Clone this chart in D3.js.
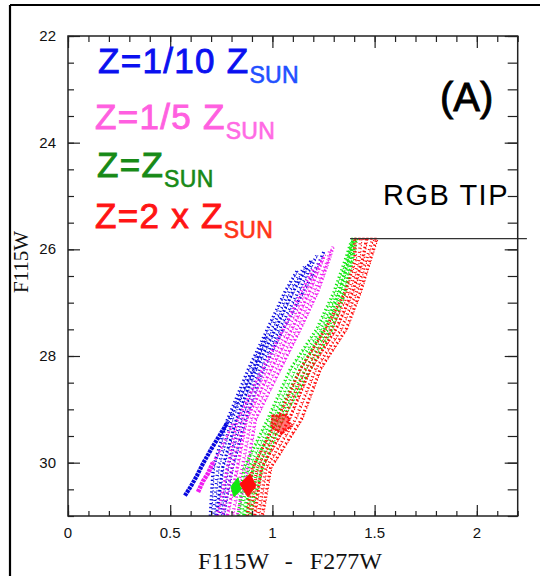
<!DOCTYPE html>
<html>
<head>
<meta charset="utf-8">
<script src="https://cdn.jsdelivr.net/npm/d3@7"></script>
<style>
  html, body { margin: 0; padding: 0; background: #fff; }
  svg { display: block; }
</style>
</head>
<body>
<svg id="chart" width="540" height="576"></svg>
<script>
// Axis ticks
const xMajorTicks = [0, 0.5, 1, 1.5, 2];
const xTickLabels = ["0", "0.5", "1", "1.5", "2"];
const yMajorTicks = [22, 24, 26, 28, 30];
const yTickLabels = ["22", "24", "26", "28", "30"];

// Legend entries (main text, subscript)
const legendMain = ["Z=1/10 Z", "Z=1/5 Z", "Z=Z", "Z=2 x Z"];
const legendSub = ["SUN", "SUN", "SUN", "SUN"];

// Tip of the red giant branch (F115W)
const rgbTipMag = 25.8;
const rgbTipColorRange = [1.38, 2.245];

// Isochrones, [F115W-F277W, F115W] — Z = 1/10 Zsun
const tracksZ010 = [
  [[0.695,31.0],[0.709,30.1],[0.778,29.2],[0.881,28.25],[0.974,27.5],[1.06,26.8],[1.12,26.4]],
  [[0.710,31.0],[0.732,30.1],[0.800,29.2],[0.899,28.25],[0.994,27.5],[1.08,26.8],[1.16,26.3]],
  [[0.726,31.0],[0.755,30.1],[0.822,29.2],[0.917,28.25],[1.013,27.5],[1.10,26.8],[1.19,26.2]],
  [[0.742,31.0],[0.779,30.1],[0.844,29.2],[0.935,28.25],[1.033,27.5],[1.125,26.8],[1.215,26.12]],
  [[0.758,31.0],[0.802,30.1],[0.866,29.2],[0.954,28.25],[1.052,27.5],[1.15,26.8],[1.233,26.2],[1.25,26.05]],
  [[0.78,29.25],[0.83,28.85],[0.90,28.3],[0.97,27.6]]
];
const clumpZ010 = [[0.572,30.62],[0.60,30.45],[0.63,30.25],[0.66,30.02],[0.70,29.75],[0.74,29.5],[0.78,29.25]];

// Z = 1/5 Zsun
const tracksZ020 = [
  [[0.729,31.0],[0.778,30.1],[0.827,29.2],[0.949,28.25],[1.052,27.5],[1.14,26.8],[1.20,26.35]],
  [[0.753,31.0],[0.800,30.1],[0.849,29.2],[0.971,28.25],[1.073,27.5],[1.16,26.8],[1.235,26.2]],
  [[0.778,31.0],[0.827,30.1],[0.871,29.2],[0.993,28.25],[1.094,27.5],[1.18,26.8],[1.255,26.1]],
  [[0.803,31.0],[0.851,30.1],[0.893,29.2],[1.015,28.25],[1.115,27.5],[1.20,26.8],[1.27,26.2],[1.28,26.0]],
  [[0.827,31.0],[0.876,30.1],[0.915,29.2],[1.037,28.25],[1.135,27.5],[1.22,26.8],[1.275,26.2],[1.296,25.95]],
  [[0.709,30.0],[0.744,29.76],[0.807,29.25]]
];
const clumpZ020 = [[0.636,30.55],[0.66,30.35],[0.685,30.2],[0.709,30.0]];

// Z = Zsun
const tracksZ100 = [
  [[0.832,31.0],[0.860,30.1],[0.974,29.2],[1.086,28.25],[1.215,27.5],[1.300,26.8],[1.355,26.2],[1.385,25.85]],
  [[0.846,31.0],[0.882,30.1],[0.992,29.2],[1.110,28.25],[1.234,27.5],[1.315,26.8],[1.364,26.2],[1.390,25.82]],
  [[0.861,31.0],[0.905,30.1],[1.010,29.2],[1.135,28.25],[1.252,27.5],[1.328,26.8],[1.372,26.2],[1.394,25.8]],
  [[0.875,31.0],[0.927,30.1],[1.028,29.2],[1.160,28.25],[1.270,27.5],[1.342,26.8],[1.382,26.2],[1.400,25.8]],
  [[0.890,31.0],[0.950,30.1],[1.047,29.2],[1.184,28.25],[1.290,27.5],[1.355,26.8],[1.390,26.2],[1.410,25.8]]
];
const tipZ100 = [[1.385,25.8],[1.41,25.8]];
const clumpZ100 = [[0.832,30.28],[0.846,30.51],[0.812,30.64],[0.797,30.45]];

// Z = 2 x Zsun
const tracksZ200 = [
  [[0.876,31.0],[0.900,30.1],[1.022,29.2],[1.135,28.25],[1.257,27.5],[1.355,26.8],[1.404,26.2],[1.40,25.82]],
  [[0.894,31.0],[0.922,30.1],[1.050,29.2],[1.160,28.25],[1.285,27.5],[1.373,26.8],[1.422,26.2],[1.43,25.82]],
  [[0.912,31.0],[0.945,30.1],[1.080,29.2],[1.184,28.25],[1.310,27.5],[1.392,26.8],[1.440,26.2],[1.46,25.8]],
  [[0.930,31.0],[0.967,30.1],[1.110,29.2],[1.210,28.25],[1.335,27.5],[1.410,26.8],[1.458,26.2],[1.49,25.8]],
  [[0.949,31.0],[0.990,30.1],[1.140,29.2],[1.233,28.25],[1.360,27.5],[1.429,26.8],[1.477,26.2],[1.51,25.8]]
];
const tipZ200 = [[1.40,25.8],[1.51,25.8]];
const clumpZ200 = [[0.890,30.21],[0.919,30.43],[0.880,30.64],[0.841,30.40]];
const clumpZ200b = [[1.00,29.12],[1.07,29.10],[1.09,29.32],[1.045,29.46],[0.995,29.33]];

// Colours
const trackColors = ["#0808e0", "#f01cf0", "#10e810", "#ff0c0c"];
const legendColors = ["#0a10f0", "#ff5fe0", "#178a17", "#ff1414"];
const subColors = ["#1f50ff", "#ff6ae4", "#178a17", "#ff3418"];

// Dot patterns cycled over the isochrones of one family
const dashPatterns = ["1.3 2.6", "1 3.2", "1.7 2.3", "1.1 2.9", "1.5 2.7", "1.2 3"];

const svg = d3.select("#chart");

const x = d3.scaleLinear().domain([0, 2.2]).range([68, 517.7]);
const y = d3.scaleLinear().domain([22, 31]).range([36, 516]);

// Outer figure border (top and left)
svg.append("line").attr("x1", 10).attr("y1", 5).attr("x2", 540).attr("y2", 5)
  .attr("stroke", "#000").attr("stroke-width", 2);
svg.append("line").attr("x1", 10).attr("y1", 5).attr("x2", 10).attr("y2", 576)
  .attr("stroke", "#000").attr("stroke-width", 2.2);

// Plot area clip
svg.append("clipPath").attr("id", "plotclip")
  .append("rect").attr("x", x(0)).attr("y", y(22))
  .attr("width", x(2.2) - x(0)).attr("height", y(31) - y(22));

const plot = svg.append("g").attr("clip-path", "url(#plotclip)");

const line = d3.line().x(d => x(d[0])).y(d => y(d[1]));

// Each isochrone: broad sparse ticks over a fine dotted core
function drawTrack(g, pts, color, k) {
  g.append("path")
    .attr("d", line(pts))
    .attr("fill", "none")
    .attr("stroke", color)
    .attr("stroke-width", 2.8)
    .attr("stroke-dasharray", dashPatterns[k % dashPatterns.length])
    .attr("stroke-dashoffset", k * 1.7);
  g.append("path")
    .attr("d", line(pts))
    .attr("fill", "none")
    .attr("stroke", color)
    .attr("stroke-width", 1.1)
    .attr("stroke-dasharray", "1.2 1.8")
    .attr("transform", "translate(1.6,-0.6)");
}

const families = [tracksZ010, tracksZ020, tracksZ100, tracksZ200];
families.forEach((tracks, i) => {
  const g = plot.append("g");
  tracks.forEach((t, j) => drawTrack(g, t, trackColors[i], j));
});

// Flat tops at the RGB tip
plot.append("path").attr("d", line(tipZ100)).attr("fill", "none")
  .attr("stroke", trackColors[2]).attr("stroke-width", 2).attr("stroke-dasharray", "2 1.5");
plot.append("path").attr("d", line(tipZ200)).attr("fill", "none")
  .attr("stroke", trackColors[3]).attr("stroke-width", 2).attr("stroke-dasharray", "2.5 1.5");

// Core helium burning clumps
plot.append("path").attr("d", line(clumpZ010)).attr("fill", "none")
  .attr("stroke", trackColors[0]).attr("stroke-width", 4.2).attr("stroke-dasharray", "3 0.8");
plot.append("path").attr("d", line(clumpZ020)).attr("fill", "none")
  .attr("stroke", trackColors[1]).attr("stroke-width", 4.5).attr("stroke-dasharray", "3 0.8");
plot.append("path").attr("d", line(clumpZ100) + "Z")
  .attr("fill", trackColors[2]).attr("stroke", trackColors[2]).attr("stroke-width", 1);
plot.append("path").attr("d", line(clumpZ200) + "Z")
  .attr("fill", trackColors[3]).attr("stroke", trackColors[3]).attr("stroke-width", 1);
plot.append("path").attr("d", line(clumpZ200b) + "Z")
  .attr("fill", trackColors[3]).attr("fill-opacity", 0.55)
  .attr("stroke", trackColors[3]).attr("stroke-width", 2.2)
  .attr("stroke-dasharray", "2 1.2");

// RGB tip line
svg.append("line")
  .attr("x1", x(rgbTipColorRange[0])).attr("x2", x(rgbTipColorRange[1]))
  .attr("y1", y(rgbTipMag)).attr("y2", y(rgbTipMag))
  .attr("stroke", "#333").attr("stroke-width", 1.3);

// Frame
svg.append("rect").attr("x", x(0)).attr("y", y(22))
  .attr("width", x(2.2) - x(0)).attr("height", y(31) - y(22))
  .attr("fill", "none").attr("stroke", "#222").attr("stroke-width", 1.5);

// Axes with inward ticks on all four sides
const xMinor = d3.range(0, 2.2001, 0.1).map(v => +v.toFixed(2));
const yMinor = d3.range(22, 31.001, 0.5);

function tickAxis(axisGen, transform) {
  const g = svg.append("g").attr("transform", transform).call(axisGen);
  g.select(".domain").remove();
  g.selectAll("line").attr("stroke", "#222").attr("stroke-width", 1.2);
  return g;
}

// bottom
tickAxis(d3.axisTop(x).tickValues(xMinor).tickSize(5).tickFormat(""), `translate(0,${y(31)})`);
tickAxis(d3.axisTop(x).tickValues(xMajorTicks).tickSize(11).tickFormat(""), `translate(0,${y(31)})`);
// top
tickAxis(d3.axisBottom(x).tickValues(xMinor).tickSize(6).tickFormat(""), `translate(0,${y(22)})`);
tickAxis(d3.axisBottom(x).tickValues(xMajorTicks).tickSize(12).tickFormat(""), `translate(0,${y(22)})`);
// left
tickAxis(d3.axisRight(y).tickValues(yMinor).tickSize(6).tickFormat(""), `translate(${x(0)},0)`);
tickAxis(d3.axisRight(y).tickValues(yMajorTicks).tickSize(12).tickFormat(""), `translate(${x(0)},0)`);
// right
tickAxis(d3.axisLeft(y).tickValues(yMinor).tickSize(10).tickFormat(""), `translate(${x(2.2)},0)`);
tickAxis(d3.axisLeft(y).tickValues(yMajorTicks).tickSize(13).tickFormat(""), `translate(${x(2.2)},0)`);

// Tick labels
svg.append("g").selectAll("text").data(xMajorTicks).join("text")
  .attr("x", d => x(d)).attr("y", 538)
  .attr("text-anchor", "middle")
  .attr("font-family", "Liberation Sans, Arial, sans-serif")
  .attr("font-size", 15).attr("fill", "#111")
  .text((d, i) => xTickLabels[i]);

svg.append("g").selectAll("text").data(yMajorTicks).join("text")
  .attr("x", 56).attr("y", d => y(d) + 5)
  .attr("text-anchor", "end")
  .attr("font-family", "Liberation Sans, Arial, sans-serif")
  .attr("font-size", 15).attr("fill", "#111")
  .text((d, i) => yTickLabels[i]);

// Axis titles
const xt = svg.append("text")
  .attr("x", 198).attr("y", 569)
  .attr("font-family", "Liberation Serif, Times New Roman, serif")
  .attr("font-size", 24).attr("fill", "#111");
xt.append("tspan").text("F115W");
xt.append("tspan").attr("dx", 17).text("-");
xt.append("tspan").attr("dx", 17).text("F277W");

svg.append("text")
  .attr("transform", "translate(28,262) rotate(-90)")
  .attr("text-anchor", "middle")
  .attr("font-family", "Liberation Serif, Times New Roman, serif")
  .attr("font-size", 21).attr("fill", "#111")
  .text("F115W");

// Legend
const legendPos = [[98, 73], [95, 129], [97, 177], [95, 228]];
legendMain.forEach((txt, i) => {
  const t = svg.append("text")
    .attr("x", legendPos[i][0]).attr("y", legendPos[i][1])
    .attr("font-family", "Liberation Sans, Arial, sans-serif")
    .attr("font-size", 35)
    .attr("letter-spacing", 1.3)
    .style("white-space", "pre")
    .attr("fill", legendColors[i])
    .attr("stroke", legendColors[i])
    .attr("stroke-width", 0.9);
  t.append("tspan").text(txt);
  t.append("tspan").attr("dy", 10).attr("font-size", 23)
    .attr("letter-spacing", 0.3)
    .attr("fill", subColors[i]).attr("stroke", subColors[i])
    .attr("stroke-width", 0.6).text(legendSub[i]);
});

// Panel tag and annotation
svg.append("text").attr("x", 440).attr("y", 111)
  .attr("font-family", "Liberation Sans, Arial, sans-serif")
  .attr("font-size", 40).attr("fill", "#000")
  .attr("stroke", "#000").attr("stroke-width", 0.9).text("(A)");

svg.append("text").attr("x", 383).attr("y", 205)
  .attr("font-family", "Liberation Sans, Arial, sans-serif")
  .attr("font-size", 29).attr("letter-spacing", 1.5)
  .attr("fill", "#000").text("RGB TIP");
</script>
</body>
</html>
